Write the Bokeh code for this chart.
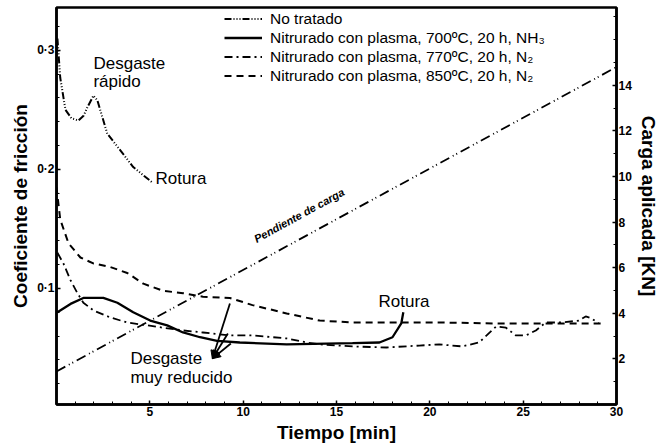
from bokeh.plotting import figure
from bokeh.models import (Range1d, LinearAxis, FixedTicker, Legend, LegendItem,
                          Arrow, NormalHead, ColumnDataSource)
from bokeh.core.properties import value
from bokeh.embed import file_html
from bokeh.resources import INLINE

FONT = "Liberation Sans"

# ---- data ----
x_nt = [0.05, 0.2, 0.48, 0.8, 1.17, 1.45, 1.65, 1.98, 2.19, 2.72, 3.42, 4.11, 5.13]
mu_nt = [0.310, 0.277, 0.250, 0.243, 0.241, 0.245, 0.252, 0.262, 0.258, 0.230, 0.216, 0.202, 0.189]

x_700 = [0.05, 0.75, 1.44, 2.51, 3.26, 4.11, 5.02, 5.93, 6.78, 7.69, 8.6, 9.82, 12.33, 15.86, 17.3, 18.0, 18.47, 18.58]
mu_700 = [0.080, 0.087, 0.092, 0.092, 0.088, 0.080, 0.073, 0.069, 0.063, 0.059, 0.056, 0.0546, 0.053, 0.054, 0.0546, 0.059, 0.0706, 0.080]

x_770 = [0.05, 0.37, 0.75, 1.12, 1.44, 1.98, 2.88, 3.79, 4.86, 5.71, 6.78, 7.85, 9.29, 10.5, 12.33, 13.4, 14.1,
         15.86, 17.67, 19.43, 20.5, 21.73, 22.64, 23.55, 24.08, 24.61, 25.15, 25.68, 26.21, 27.07, 27.98, 28.35, 28.67, 29.04]
mu_770 = [0.130, 0.121, 0.107, 0.096, 0.088, 0.0815, 0.0756, 0.0714, 0.069, 0.067, 0.0647, 0.063, 0.0605, 0.0605, 0.058, 0.0546, 0.053,
          0.0513, 0.0504, 0.052, 0.053, 0.0513, 0.0546, 0.068, 0.067, 0.0605, 0.0605, 0.0647, 0.0714, 0.0714, 0.073, 0.0765, 0.0748, 0.0706]

x_850 = [0.0, 0.2, 0.64, 1.28, 1.97, 2.88, 3.79, 4.65, 5.71, 6.78, 7.85, 9.29, 10.5, 12.33, 14.1, 15.86, 17.67, 20.5, 23.5, 26.5, 29.3]
mu_850 = [0.185, 0.158, 0.138, 0.126, 0.121, 0.118, 0.113, 0.104, 0.098, 0.096, 0.093, 0.092, 0.086, 0.079, 0.073, 0.0714, 0.0714, 0.0714, 0.0706, 0.0706, 0.0706]

x_load = [0.0, 30.0]
load_kn = [1.45, 14.8]

series_labels = ["No tratado",
                 "Nitrurado con plasma, 700ºC, 20 h, NH\u2083",
                 "Nitrurado con plasma, 770ºC, 20 h, N\u2082",
                 "Nitrurado con plasma, 850ºC, 20 h, N\u2082"]

x_ticks = [5, 10, 15, 20, 25, 30]
mu_ticks = [0.1, 0.2, 0.3]
mu_tick_labels = ["0·1", "0·2", "0·3"]
kn_ticks = [2, 4, 6, 8, 10, 12, 14]

note_x = [1.98, 1.98, 5.3, 17.25, 3.96, 3.96]
note_y = [0.289, 0.274, 0.192, 0.089, 0.041, 0.025]
note_text = ["Desgaste", "rápido", "Rotura", "Rotura", "Desgaste", "muy reducido"]

# arrows: from curves to label point
arr_x0 = [9.29, 9.18, 9.34]
arr_y0 = [0.0874, 0.0622, 0.0538]
arr_x1 = [8.35, 8.35, 8.35]
arr_y1 = [0.041, 0.041, 0.041]

# ---- figure ----
p = figure(width=666, height=446, output_backend="svg", toolbar_location=None,
           x_range=Range1d(0, 30), y_range=Range1d(0.0025, 0.336),
           min_border_left=56, min_border_right=50, min_border_top=7, min_border_bottom=42)
p.background_fill_color = "white"
p.border_fill_color = "white"
p.outline_line_color = "black"
p.outline_line_width = 2.5
p.xgrid.visible = False
p.ygrid.visible = False
p.extra_y_ranges = {"kn": Range1d(0, 17.41)}

ax_b = p.xaxis[0]
ax_b.ticker = FixedTicker(ticks=x_ticks, minor_ticks=list(range(0, 31)))
ax_b.axis_label = "Tiempo [min]"
ax_l = p.yaxis[0]
ax_l.ticker = FixedTicker(ticks=mu_ticks, minor_ticks=[i * 0.02 for i in range(0, 17)])
ax_l.major_label_overrides = {t: s for t, s in zip(mu_ticks, mu_tick_labels)}
ax_l.axis_label = "Coeficiente de fricción"

ax_r = LinearAxis(y_range_name="kn", axis_label="Carga aplicada [KN]",
                  ticker=FixedTicker(ticks=kn_ticks, minor_ticks=list(range(0, 18))))
p.add_layout(ax_r, "right")

for ax in (ax_b, ax_l, ax_r):
    ax.axis_line_width = 2.5
    ax.axis_line_color = "black"
    ax.major_tick_in = 4
    ax.major_tick_out = 0
    ax.minor_tick_in = 3
    ax.minor_tick_out = 0
    ax.major_tick_line_width = 1.5
    ax.major_label_text_font = FONT
    ax.major_label_text_font_style = "bold"
    ax.major_label_text_font_size = "12px"
    ax.major_label_text_color = "black"
    ax.axis_label_text_font = FONT
    ax.axis_label_text_font_style = "bold"
    ax.axis_label_text_font_size = "19px"
    ax.axis_label_text_color = "black"
    ax.major_label_standoff = 2
    ax.axis_label_standoff = 3

r_nt = p.line(x_nt, mu_nt, line_color="black", line_width=2, line_dash="7 2 1 2 1 2 1 2")
r_700 = p.line(x_700, mu_700, line_color="black", line_width=2.3)
r_770 = p.line(x_770, mu_770, line_color="black", line_width=1.8, line_dash="8 4 2 4")
r_850 = p.line(x_850, mu_850, line_color="black", line_width=2, line_dash="7 5")
p.line(x_load, load_kn, y_range_name="kn", line_color="black", line_width=1.8, line_dash="10 4 1 3 1 4")

p.text(x=note_x, y=note_y, text=note_text, text_font=value(FONT), text_font_size="17px",
       text_baseline="middle", text_align="left", text_color="black")

p.text(x=[13.0], y=[8.3], text=["Pendiente de carga"], y_range_name="kn", angle=0.50,
       text_font=value(FONT), text_font_size="11px", text_font_style="bold italic",
       text_align="center", text_baseline="middle", text_color="black")

asrc = ColumnDataSource(dict(x0=arr_x0, y0=arr_y0, x1=arr_x1, y1=arr_y1))
p.add_layout(Arrow(source=asrc, x_start="x0", y_start="y0", x_end="x1", y_end="y1",
                   line_width=1.8, line_color="black",
                   end=NormalHead(size=8, fill_color="black", line_color="black")))

legend = Legend(items=[LegendItem(label=lab, renderers=[r]) for lab, r in
                       zip(series_labels, [r_nt, r_700, r_770, r_850])],
                location=(168, 319))
legend.label_text_font = FONT
legend.label_text_font_size = "15.5px"
legend.label_text_color = "black"
legend.glyph_width = 38
legend.glyph_height = 19
legend.label_height = 19
legend.spacing = 0
legend.padding = 2
legend.margin = 0
legend.label_standoff = 8
legend.border_line_color = None
legend.background_fill_alpha = 0
p.add_layout(legend)

open("out.html", "w").write(file_html(p, INLINE))
